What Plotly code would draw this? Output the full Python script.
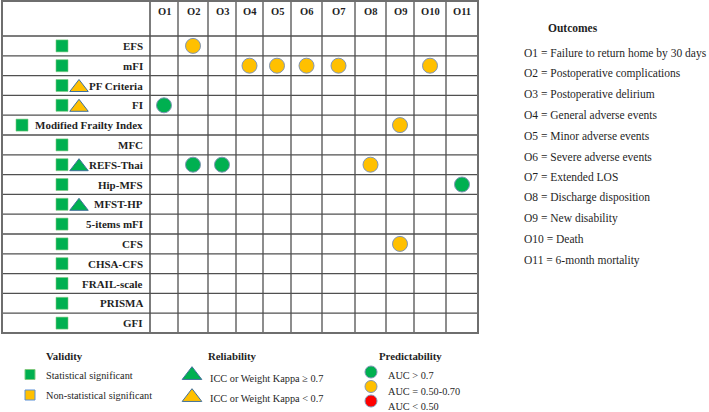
import plotly.graph_objects as go

# ---------------- data ----------------
instruments = ["EFS", "mFI", "PF Criteria", "FI", "Modified Frailty Index", "MFC",
               "REFS-Thai", "Hip-MFS", "MFST-HP", "5-items mFI", "CFS", "CHSA-CFS",
               "FRAIL-scale", "PRISMA", "GFI"]
outcome_codes = ["O1", "O2", "O3", "O4", "O5", "O6", "O7", "O8", "O9", "O10", "O11"]
outcome_names = ["Failure to return home by 30 days", "Postoperative complications",
                 "Postoperative delirium", "General adverse events", "Minor adverse events",
                 "Severe adverse events", "Extended LOS", "Discharge disposition",
                 "New disability", "Death", "6-month mortality"]
validity = ["sig", "sig", "sig", "sig", "sig", "sig", "sig", "sig", "sig", "sig",
            "sig", "sig", "sig", "sig", "sig"]
reliability = ["", "", "low", "low", "", "", "high", "", "high", "", "", "", "", "", ""]
auc_instrument = ["EFS", "mFI", "mFI", "mFI", "mFI", "mFI", "FI", "Modified Frailty Index",
                  "REFS-Thai", "REFS-Thai", "REFS-Thai", "Hip-MFS", "CFS"]
auc_outcome = ["O2", "O4", "O5", "O6", "O7", "O10", "O1", "O9", "O2", "O3", "O8", "O11", "O9"]
auc_level = ["mid", "mid", "mid", "mid", "mid", "mid", "high", "mid", "high", "high",
             "mid", "high", "mid"]

validity_legend = [("sig", "Statistical significant"), ("nonsig", "Non-statistical significant")]
reliability_legend = [("high", "ICC or Weight Kappa \u2265 0.7"), ("low", "ICC or Weight Kappa < 0.7")]
auc_legend = [("high", "AUC > 0.7"), ("mid", "AUC = 0.50-0.70"), ("low", "AUC < 0.50")]

# ---------------- styles / layout ----------------
GREEN = "#00B050"
ORANGE = "#FFC000"
RED = "#FF0000"
OUTLINE = "#7F95B5"
TRI_OUTLINE = "#41719C"
TEXT = "#1f1f1f"
GRID = "#505050"
FONT = "Liberation Serif"

VAL_COLOR = {"sig": GREEN, "nonsig": ORANGE}
REL_COLOR = {"high": GREEN, "low": ORANGE}
AUC_COLOR = {"high": GREEN, "mid": ORANGE, "low": RED}

W, H = 709, 412
COL_EDGES = [150, 178, 208, 236, 263, 291, 322, 355, 386, 414, 446, 478]
TABLE_LEFT, TABLE_TOP, HEADER_BOTTOM, TABLE_BOTTOM = 2, 1, 36, 333
LABEL_RIGHT_X = 145
SQUARE_X_DEFAULT, SQUARE_X_LONG = 62, 22
TRI_X = 79

n_rows = len(instruments)
row_h = (TABLE_BOTTOM - HEADER_BOTTOM) / n_rows
row_center = {name: HEADER_BOTTOM + (i + 0.5) * row_h for i, name in enumerate(instruments)}
col_center = {c: (COL_EDGES[i] + COL_EDGES[i + 1]) / 2 for i, c in enumerate(outcome_codes)}

fig = go.Figure()
shapes = []
annotations = []

# grid lines
for x in COL_EDGES[1:-1]:
    shapes.append(dict(type="line", x0=x, x1=x, y0=TABLE_TOP, y1=TABLE_BOTTOM,
                       line=dict(color=GRID, width=1.3)))
shapes.append(dict(type="line", x0=COL_EDGES[0], x1=COL_EDGES[0], y0=TABLE_TOP, y1=TABLE_BOTTOM,
                   line=dict(color=GRID, width=1.5)))
for i in range(n_rows):
    y = HEADER_BOTTOM + i * row_h
    shapes.append(dict(type="line", x0=TABLE_LEFT, x1=COL_EDGES[-1], y0=y, y1=y,
                       line=dict(color=GRID, width=1.5 if i == 0 else 1.3)))
shapes.append(dict(type="rect", x0=TABLE_LEFT, x1=COL_EDGES[-1], y0=TABLE_TOP, y1=TABLE_BOTTOM,
                   line=dict(color="#6e6e6e", width=2)))

# header labels
for c in outcome_codes:
    annotations.append(dict(x=col_center[c], y=11, text=f"<b>{c}</b>", showarrow=False,
                            xanchor="center", yanchor="middle",
                            font=dict(family=FONT, size=10.5, color=TEXT)))

# row labels
for name in instruments:
    annotations.append(dict(x=LABEL_RIGHT_X, y=row_center[name], text=f"<b>{name}</b>",
                            showarrow=False, xanchor="right", yanchor="middle",
                            font=dict(family=FONT, size=11, color=TEXT)))

# validity squares
sq_x = [SQUARE_X_LONG if len(n) > 15 else SQUARE_X_DEFAULT for n in instruments]
fig.add_trace(go.Scatter(
    x=sq_x, y=[row_center[n] for n in instruments], mode="markers",
    marker=dict(symbol="square", size=12, color=[VAL_COLOR[v] for v in validity],
                line=dict(color="#7FC97F", width=0.6)),
    hoverinfo="skip", showlegend=False, cliponaxis=False))

# reliability triangles
tri_names = [n for n, r in zip(instruments, reliability) if r]
tri_levels = [r for r in reliability if r]
fig.add_trace(go.Scatter(
    x=[TRI_X] * len(tri_names), y=[row_center[n] + 2 for n in tri_names], mode="markers",
    marker=dict(symbol="triangle-up", size=16, color=[REL_COLOR[r] for r in tri_levels],
                line=dict(color=TRI_OUTLINE, width=1)),
    hoverinfo="skip", showlegend=False, cliponaxis=False))

# predictability circles
fig.add_trace(go.Scatter(
    x=[col_center[o] for o in auc_outcome], y=[row_center[n] for n in auc_instrument],
    mode="markers",
    marker=dict(symbol="circle", size=15, color=[AUC_COLOR[l] for l in auc_level],
                line=dict(color=OUTLINE, width=1)),
    hoverinfo="skip", showlegend=False, cliponaxis=False))

# ---------- outcomes list ----------
annotations.append(dict(x=573, y=28, text="<b>Outcomes</b>", showarrow=False,
                        xanchor="center", yanchor="middle",
                        font=dict(family=FONT, size=11.5, color=TEXT)))
for i, (c, nm) in enumerate(zip(outcome_codes, outcome_names)):
    annotations.append(dict(x=522, y=53.3 + i * 20.67, text=f"{c} = {nm}", showarrow=False,
                            xanchor="left", yanchor="middle",
                            font=dict(family=FONT, size=11.5, color=TEXT)))

# ---------- bottom legends ----------
HEAD_Y = 356
LEG_FONT = dict(family=FONT, size=10.3, color=TEXT)
HEAD_FONT = dict(family=FONT, size=10.8, color=TEXT)
annotations.append(dict(x=44, y=HEAD_Y, text="<b>Validity</b>", showarrow=False,
                        xanchor="left", yanchor="middle", font=HEAD_FONT))
annotations.append(dict(x=206, y=HEAD_Y, text="<b>Reliability</b>", showarrow=False,
                        xanchor="left", yanchor="middle", font=HEAD_FONT))
annotations.append(dict(x=377, y=HEAD_Y, text="<b>Predictability</b>", showarrow=False,
                        xanchor="left", yanchor="middle", font=HEAD_FONT))

val_y = [374.5, 395]
fig.add_trace(go.Scatter(
    x=[30] * len(validity_legend), y=val_y, mode="markers",
    marker=dict(symbol="square", size=10, color=[VAL_COLOR[k] for k, _ in validity_legend],
                line=dict(color=["#7FC97F", "#5B8FD6"], width=1)),
    hoverinfo="skip", showlegend=False, cliponaxis=False))
for (k, lab), y in zip(validity_legend, [375, 395.5]):
    annotations.append(dict(x=44, y=y, text=lab, showarrow=False, xanchor="left",
                            yanchor="middle", font=LEG_FONT))

rel_y = [373, 395]
fig.add_trace(go.Scatter(
    x=[192] * len(reliability_legend), y=[y + 2.2 for y in rel_y], mode="markers",
    marker=dict(symbol="triangle-up", size=17, color=[REL_COLOR[k] for k, _ in reliability_legend],
                line=dict(color=TRI_OUTLINE, width=1)),
    hoverinfo="skip", showlegend=False, cliponaxis=False))
for (k, lab), y in zip(reliability_legend, [378, 398]):
    annotations.append(dict(x=208, y=y, text=lab, showarrow=False, xanchor="left",
                            yanchor="middle", font=LEG_FONT))

auc_y = [372, 386.5, 401]
fig.add_trace(go.Scatter(
    x=[371] * len(auc_legend), y=auc_y, mode="markers",
    marker=dict(symbol="circle", size=12, color=[AUC_COLOR[k] for k, _ in auc_legend],
                line=dict(color=OUTLINE, width=1)),
    hoverinfo="skip", showlegend=False, cliponaxis=False))
for (k, lab), y in zip(auc_legend, [375.7, 391.5, 406.5]):
    annotations.append(dict(x=386, y=y, text=lab, showarrow=False, xanchor="left",
                            yanchor="middle", font=LEG_FONT))

fig.update_layout(
    width=W, height=H, margin=dict(l=0, r=0, t=0, b=0),
    paper_bgcolor="white", plot_bgcolor="white",
    xaxis=dict(range=[0, W], visible=False, fixedrange=True),
    yaxis=dict(range=[H, 0], visible=False, fixedrange=True),
    shapes=shapes, annotations=annotations, showlegend=False,
)
fig.write_html("out.html",
               config={"displayModeBar": False, "staticPlot": True},
               post_script="document.body.style.margin='0';document.body.style.overflow='hidden';")
